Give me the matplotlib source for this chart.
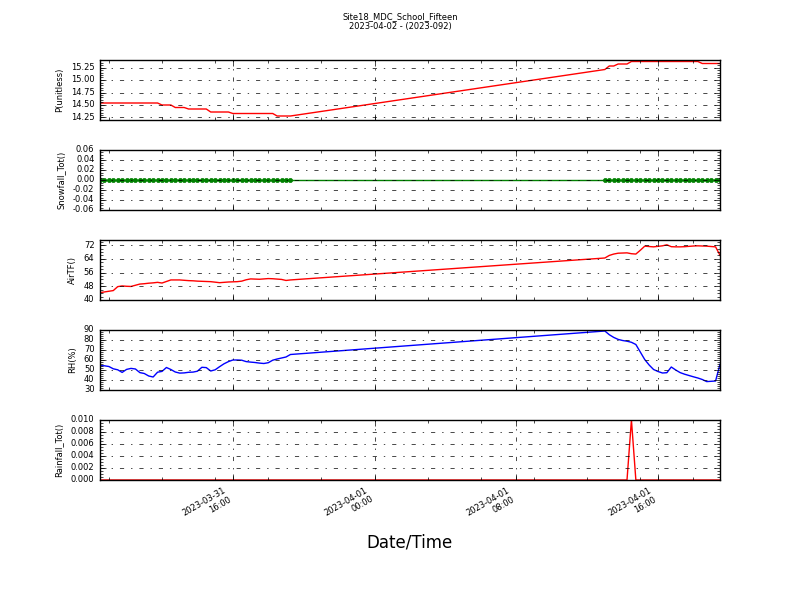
import matplotlib
matplotlib.use("Agg")
import matplotlib.pyplot as plt
import matplotlib.dates as mdates
from matplotlib.ticker import MultipleLocator, AutoMinorLocator, FormatStrFormatter
import numpy as np
import pandas as pd

plt.style.use('classic')

title = "Site18_MDC_School_Fifteen\n2023-04-02 - (2023-092)"
xlabel = "Date/Time"

# two data segments at 15-minute spacing (gap in between)
seg1_start, seg1_n = "2023-03-31 08:30", 44
seg2_start, seg2_n = "2023-04-01 13:00", 27
times = pd.DatetimeIndex(list(pd.date_range(seg1_start, periods=seg1_n, freq="15min")) +
                         list(pd.date_range(seg2_start, periods=seg2_n, freq="15min")))

pressure = [14.54, 14.54, 14.54, 14.54, 14.54, 14.54, 14.54, 14.54, 14.54, 14.54,
            14.54, 14.54, 14.54, 14.54, 14.50, 14.50, 14.50, 14.45, 14.45, 14.45,
            14.42, 14.42, 14.42, 14.42, 14.42, 14.36, 14.36, 14.36, 14.36, 14.36,
            14.33, 14.33, 14.33, 14.33, 14.33, 14.33, 14.33, 14.33, 14.33, 14.33,
            14.28, 14.28, 14.28, 14.28,
            15.21, 15.28, 15.28, 15.32, 15.32, 15.32, 15.37, 15.37, 15.37, 15.37,
            15.37, 15.37, 15.37, 15.37, 15.37, 15.37, 15.37, 15.37, 15.37, 15.37,
            15.37, 15.37, 15.33, 15.33, 15.33, 15.33, 15.33]

snowfall = [0.0, 0.0, 0.0, 0.0, 0.0, 0.0, 0.0, 0.0, 0.0, 0.0,
            0.0, 0.0, 0.0, 0.0, 0.0, 0.0, 0.0, 0.0, 0.0, 0.0,
            0.0, 0.0, 0.0, 0.0, 0.0, 0.0, 0.0, 0.0, 0.0, 0.0,
            0.0, 0.0, 0.0, 0.0, 0.0, 0.0, 0.0, 0.0, 0.0, 0.0,
            0.0, 0.0, 0.0, 0.0,
            0.0, 0.0, 0.0, 0.0, 0.0, 0.0, 0.0, 0.0, 0.0, 0.0,
            0.0, 0.0, 0.0, 0.0, 0.0, 0.0, 0.0, 0.0, 0.0, 0.0,
            0.0, 0.0, 0.0, 0.0, 0.0, 0.0, 0.0]

air_tf = [44.3, 44.7, 45.1, 45.5, 47.8, 48.2, 48.0, 47.9, 48.6, 49.3,
          49.5, 49.8, 50.0, 50.3, 49.9, 50.8, 51.7, 51.7, 51.7, 51.5,
          51.3, 51.2, 51.0, 50.9, 50.8, 50.7, 50.4, 50.1, 50.3, 50.5,
          50.6, 50.7, 51.0, 51.8, 52.3, 52.2, 52.1, 52.3, 52.5, 52.4,
          52.2, 52.0, 51.4, 51.7,
          64.5, 66.0, 66.8, 67.3, 67.4, 67.5, 67.0, 66.8, 69.0, 71.4,
          71.2, 71.0, 71.3, 71.6, 72.2, 71.1, 71.0, 71.0, 71.1, 71.3,
          71.5, 71.6, 71.5, 71.4, 71.2, 71.0, 66.1]

rh = [54.3, 54.2, 53.5, 51.2, 50.2, 47.6, 50.6, 51.6, 51.0, 47.4,
      46.5, 44.0, 43.0, 47.8, 48.6, 52.5, 50.5, 48.0, 46.9, 47.1,
      47.7, 47.9, 48.8, 52.7, 52.4, 49.0, 50.2, 53.3, 56.2, 58.4,
      60.0, 60.0, 59.8, 58.4, 57.9, 57.5, 56.9, 56.5, 57.3, 59.8,
      61.0, 62.0, 63.0, 65.5,
      89.0, 85.3, 82.6, 80.6, 79.5, 78.8, 77.7, 75.5, 68.0, 60.5,
      55.0, 50.5, 48.5, 47.0, 47.3, 53.0, 50.0, 47.4, 45.8, 44.5,
      43.2, 42.0, 40.5, 38.4, 38.7, 39.0, 55.7]

rainfall = [0.0, 0.0, 0.0, 0.0, 0.0, 0.0, 0.0, 0.0, 0.0, 0.0,
            0.0, 0.0, 0.0, 0.0, 0.0, 0.0, 0.0, 0.0, 0.0, 0.0,
            0.0, 0.0, 0.0, 0.0, 0.0, 0.0, 0.0, 0.0, 0.0, 0.0,
            0.0, 0.0, 0.0, 0.0, 0.0, 0.0, 0.0, 0.0, 0.0, 0.0,
            0.0, 0.0, 0.0, 0.0,
            0.0, 0.0, 0.0, 0.0, 0.0, 0.0, 0.01, 0.0, 0.0, 0.0,
            0.0, 0.0, 0.0, 0.0, 0.0, 0.0, 0.0, 0.0, 0.0, 0.0,
            0.0, 0.0, 0.0, 0.0, 0.0, 0.0, 0.0]

panels = [
    ("P(unitless)", pressure, 'r', None, (14.2, 15.4), 0.25, "%.2f"),
    ("Snowfall_Tot()", snowfall, 'g', 'o', (-0.06, 0.06), 0.02, "%.2f"),
    ("AirTF()", air_tf, 'r', None, (40.0, 75.0), 8, "%d"),
    ("RH(%)", rh, 'b', None, (30, 90), 10, "%d"),
    ("Rainfall_Tot()", rainfall, 'r', None, (0, 0.010), 0.002, "%.3f"),
]

fig, axes = plt.subplots(5, 1, sharex=True, figsize=(8, 6), dpi=100)
fig.subplots_adjust(left=0.125, right=0.9, top=0.9, bottom=0.2, hspace=0.5)

for ax, (lab, vals, col, mk, ylim, step, fmt) in zip(axes, panels):
    if mk:
        ax.plot(times, vals, color=col, marker=mk, markersize=3, markeredgecolor=col, linewidth=1)
    else:
        ax.plot(times, vals, color=col, linewidth=1)
    ax.set_ylim(*ylim)
    ax.yaxis.set_major_locator(MultipleLocator(step))
    ax.yaxis.set_major_formatter(FormatStrFormatter(fmt))
    ax.yaxis.set_minor_locator(AutoMinorLocator())
    ax.set_ylabel(lab, fontsize=6)
    ax.tick_params(axis='both', which='major', labelsize=6)
    ax.grid(True, which='major', linestyle='-.', color='k', linewidth=0.5)
    ax.xaxis.set_major_locator(mdates.HourLocator(byhour=[0, 8, 16]))
    ax.xaxis.set_minor_locator(mdates.HourLocator(byhour=range(0, 24, 3)))
    ax.xaxis.set_major_formatter(mdates.DateFormatter("%Y-%m-%d\n%H:%M"))
    ax.set_xlim(times[0], times[-1])

for lbl in axes[-1].get_xticklabels():
    lbl.set_rotation(30)
    lbl.set_ha('right')
axes[-1].set_xlabel(xlabel, fontsize=12)

fig.suptitle(title, fontsize=6, y=0.98)
fig.savefig("out.png", dpi=100)
